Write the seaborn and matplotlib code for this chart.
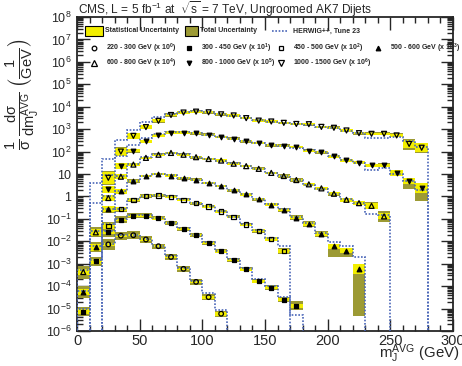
import numpy as np
import pandas as pd
import matplotlib
matplotlib.use('Agg')
import matplotlib.pyplot as plt
import seaborn as sns
from matplotlib.patches import Rectangle
from matplotlib.lines import Line2D
from matplotlib.ticker import LogLocator, NullFormatter, MultipleLocator, FuncFormatter

sns.set_style('ticks')
plt.rcParams['font.family'] = ['Liberation Sans', 'DejaVu Sans']
plt.rcParams['mathtext.fontset'] = 'custom'
plt.rcParams['mathtext.rm'] = 'Liberation Sans'
plt.rcParams['mathtext.it'] = 'Liberation Sans:italic'
plt.rcParams['mathtext.bf'] = 'Liberation Sans:bold'
plt.rcParams['mathtext.default'] = 'regular'

# ---- data (values are log10 of the plotted, already scaled, cross sections) ----
# 220 - 300 GeV (x 10^0), open circles
circ_x = [25, 35, 45, 55, 65, 75, 85, 95, 105, 115]
circ_log = [-2.14, -1.75, -1.73, -1.92, -2.22, -2.70, -3.23, -3.81, -4.49, -5.23]
circ_stat = [0.08, 0.05, 0.05, 0.05, 0.05, 0.05, 0.05, 0.06, 0.07, 0.08]
circ_tot = [0.26, 0.18, 0.18, 0.15, 0.12, 0.12, 0.12, 0.12, 0.13, 0.14]
circ_hw_x = [25, 35, 45, 55, 65, 75, 85, 95, 105, 115]
circ_hw = [-2.1, -1.72, -1.7, -1.9, -2.2, -2.65, -3.2, -3.75, -4.3, -5.05]

# 300 - 450 GeV (x 10^1), filled squares
sqf_x = [5, 15, 25, 35, 45, 55, 65, 75, 85, 95, 105, 115, 125, 135, 145, 155, 165, 175]
sqf_log = [-5.14, -2.9, -1.6, -1.04, -0.86, -0.86, -0.98, -1.19, -1.44, -1.72,
           -2.07, -2.45, -2.83, -3.25, -3.78, -4.07, -4.60, -4.88]
sqf_stat = [0.1, 0.1, 0.06, 0.05, 0.05, 0.05, 0.05, 0.05, 0.05, 0.05,
            0.05, 0.05, 0.05, 0.06, 0.06, 0.07, 0.08, 0.1]
sqf_tot = [0.19, 0.22, 0.22, 0.16, 0.12, 0.1, 0.09, 0.09, 0.09, 0.09,
           0.09, 0.09, 0.09, 0.09, 0.1, 0.11, 0.12, 0.2]
sqf_hw_x = sqf_x
sqf_hw = [-5.0, -2.85, -1.55, -1.0, -0.83, -0.85, -0.98, -1.17, -1.42, -1.7,
          -2.05, -2.42, -2.8, -3.2, -3.7, -4.0, -4.5, -5.3]

# 450 - 500 GeV (x 10^2), open squares
sqo_x = [25, 35, 45, 55, 65, 75, 85, 95, 105, 115, 125, 135, 145, 155, 165]
sqo_log = [-1.31, -0.57, -0.15, 0.02, 0.05, -0.02, -0.15, -0.30, -0.45, -0.67,
           -0.91, -1.26, -1.53, -1.90, -2.43]
sqo_stat = [0.12, 0.1, 0.06, 0.05, 0.05, 0.05, 0.05, 0.05, 0.05, 0.05,
            0.05, 0.05, 0.06, 0.07, 0.09]
sqo_tot = [0.16, 0.12, 0.08, 0.07, 0.07, 0.07, 0.07, 0.07, 0.07, 0.07,
           0.07, 0.08, 0.09, 0.1, 0.15]
sqo_hw_x = sqo_x
sqo_hw = [-1.25, -0.55, -0.13, 0.03, 0.06, 0.0, -0.13, -0.28, -0.43, -0.65,
          -0.9, -1.22, -1.5, -1.85, -2.2]

# 500 - 600 GeV (x 10^3), filled up triangles
tuf_x = [5, 15, 25, 35, 45, 55, 65, 75, 85, 95, 105, 115, 125, 135, 145, 155,
         165, 175, 185, 195, 205, 215, 225]
tuf_log = [-4.26, -2.27, -0.57, 0.22, 0.69, 0.91, 1.0, 0.93, 0.81, 0.74, 0.60,
           0.46, 0.27, 0.09, -0.12, -0.36, -0.60, -0.94, -1.23, -1.68, -2.22,
           -2.42, -3.23]
tuf_stat = [0.12, 0.15, 0.14, 0.1, 0.06, 0.05, 0.05, 0.05, 0.05, 0.05, 0.05,
            0.05, 0.05, 0.05, 0.05, 0.06, 0.06, 0.07, 0.09, 0.1, 0.12, 0.1, 0.22]
tuf_tot = [0.25, 0.22, 0.15, 0.1, 0.07, 0.06, 0.06, 0.06, 0.06, 0.06, 0.06,
           0.06, 0.06, 0.06, 0.07, 0.08, 0.09, 0.12, 0.13, 0.15, 0.12, 0.12, 0.22]
tuf_tot_dn = [0.25, 0.22, 0.15, 0.1, 0.07, 0.06, 0.06, 0.06, 0.06, 0.06, 0.06,
              0.06, 0.06, 0.06, 0.07, 0.08, 0.09, 0.12, 0.13, 0.15, 0.5, 0.3, 2.1]
tuf_hw_x = tuf_x
tuf_hw = [-4.2, -2.2, -0.55, 0.25, 0.7, 0.92, 1.0, 0.95, 0.83, 0.74, 0.62, 0.47,
          0.28, 0.1, -0.1, -0.33, -0.58, -0.9, -1.2, -1.62, -2.05, -2.2, -2.7]

# 600 - 800 GeV (x 10^4), open up triangles
tuo_x = [5, 15, 25, 35, 45, 55, 65, 75, 85, 95, 105, 115, 125, 135, 145, 155,
         165, 175, 185, 195, 205, 215, 225, 235, 245]
tuo_log = [-3.37, -1.6, -0.07, 0.88, 1.42, 1.72, 1.86, 1.94, 1.86, 1.75, 1.67,
           1.60, 1.46, 1.35, 1.23, 1.05, 0.91, 0.73, 0.54, 0.36, 0.12, -0.15,
           -0.30, -0.42, -0.89]
tuo_stat = [0.15, 0.15, 0.14, 0.1, 0.07, 0.05, 0.05, 0.05, 0.05, 0.05, 0.05,
            0.05, 0.05, 0.05, 0.05, 0.05, 0.06, 0.06, 0.06, 0.07, 0.07, 0.08,
            0.09, 0.12, 0.13]
tuo_tot = [0.29, 0.22, 0.15, 0.1, 0.08, 0.06, 0.06, 0.06, 0.06, 0.06, 0.06,
           0.06, 0.06, 0.06, 0.06, 0.06, 0.07, 0.07, 0.07, 0.08, 0.08, 0.09,
           0.1, 0.16, 0.24]
tuo_hw_x = tuo_x
tuo_hw = [-3.3, -1.55, 0.0, 0.92, 1.45, 1.75, 1.88, 1.95, 1.88, 1.77, 1.68, 1.6,
          1.47, 1.35, 1.22, 1.05, 0.9, 0.72, 0.52, 0.34, 0.1, -0.12, -0.28,
          -0.8, -0.85]

# 800 - 1000 GeV (x 10^5), filled down triangles
tdf_x = [25, 35, 45, 55, 65, 75, 85, 95, 105, 115, 125, 135, 145, 155, 165, 175,
         185, 195, 205, 215, 225, 235, 245, 255, 265, 275]
tdf_log = [0.32, 1.35, 2.04, 2.45, 2.72, 2.85, 2.85, 2.82, 2.75, 2.65, 2.57,
           2.46, 2.38, 2.28, 2.26, 2.20, 2.04, 1.97, 1.79, 1.61, 1.50, 1.38,
           1.38, 1.05, 0.69, 0.39]
tdf_stat = [0.15, 0.12, 0.08, 0.06, 0.05, 0.05, 0.05, 0.05, 0.05, 0.05, 0.05,
            0.05, 0.05, 0.05, 0.05, 0.05, 0.05, 0.05, 0.06, 0.06, 0.06, 0.07,
            0.08, 0.13, 0.15, 0.22]
tdf_tot = [0.16, 0.13, 0.09, 0.07, 0.06, 0.06, 0.06, 0.06, 0.06, 0.06, 0.06,
           0.06, 0.06, 0.06, 0.06, 0.06, 0.06, 0.06, 0.07, 0.07, 0.07, 0.08,
           0.09, 0.14, 0.15, 0.22]
tdf_tot_dn = [0.16, 0.13, 0.09, 0.07, 0.06, 0.06, 0.06, 0.06, 0.06, 0.06, 0.06,
              0.06, 0.06, 0.06, 0.06, 0.06, 0.06, 0.06, 0.07, 0.07, 0.07, 0.08,
              0.09, 0.14, 0.35, 0.6]
tdf_hw_x = [15] + tdf_x
tdf_hw = [-0.3, 0.95, 1.8, 2.3, 2.6, 2.8, 2.88, 2.87, 2.83, 2.76, 2.66, 2.57,
          2.47, 2.38, 2.3, 2.24, 2.17, 2.05, 1.96, 1.8, 1.62, 1.48, 1.2, 1.25,
          1.0, 0.68, 0.3]

# 1000 - 1500 GeV (x 10^6), open down triangles
tdo_x = tdf_x
tdo_log = [0.83, 2.0, 2.70, 3.09, 3.37, 3.63, 3.74, 3.78, 3.75, 3.66, 3.61,
           3.49, 3.38, 3.34, 3.28, 3.23, 3.22, 3.10, 3.06, 2.94, 2.82, 2.79,
           2.79, 2.72, 2.34, 2.17]
tdo_stat = [0.27, 0.18, 0.13, 0.1, 0.07, 0.06, 0.05, 0.05, 0.05, 0.05, 0.05,
            0.05, 0.05, 0.05, 0.05, 0.05, 0.05, 0.05, 0.05, 0.05, 0.05, 0.06,
            0.06, 0.08, 0.18, 0.19]
tdo_tot = [0.3, 0.19, 0.14, 0.1, 0.08, 0.07, 0.06, 0.06, 0.06, 0.06, 0.06,
           0.06, 0.06, 0.06, 0.06, 0.06, 0.06, 0.06, 0.06, 0.06, 0.06, 0.07,
           0.07, 0.09, 0.2, 0.2]
tdo_tot_dn = [0.3, 0.19, 0.14, 0.1, 0.08, 0.07, 0.06, 0.06, 0.06, 0.06, 0.06,
              0.06, 0.06, 0.06, 0.06, 0.06, 0.06, 0.06, 0.06, 0.06, 0.06, 0.07,
              0.07, 0.09, 0.26, 0.24]
tdo_hw_x = [15] + tdo_x
tdo_hw = [0.62, 1.68, 2.5, 2.97, 3.3, 3.52, 3.68, 3.77, 3.8, 3.76, 3.68, 3.6,
          3.5, 3.4, 3.33, 3.27, 3.22, 3.18, 3.1, 3.03, 2.93, 2.83, 2.62, 2.62,
          2.65, 2.45, 2.2]

series = [
    # label, x, log, stat, tot_up, tot_dn, hw_x, hw, marker, filled, size
    ('220 - 300 GeV (x 10$^{0}$)', circ_x, circ_log, circ_stat, circ_tot, circ_tot, circ_hw_x, circ_hw, 'o', False, 11),
    ('300 - 450 GeV (x 10$^{1}$)', sqf_x, sqf_log, sqf_stat, sqf_tot, sqf_tot, sqf_hw_x, sqf_hw, 's', True, 9),
    ('450 - 500 GeV (x 10$^{2}$)', sqo_x, sqo_log, sqo_stat, sqo_tot, sqo_tot, sqo_hw_x, sqo_hw, 's', False, 10),
    ('500 - 600 GeV (x 10$^{3}$)', tuf_x, tuf_log, tuf_stat, tuf_tot, tuf_tot_dn, tuf_hw_x, tuf_hw, '^', True, 11),
    ('600 - 800 GeV (x 10$^{4}$)', tuo_x, tuo_log, tuo_stat, tuo_tot, tuo_tot, tuo_hw_x, tuo_hw, '^', False, 13),
    ('800 - 1000 GeV (x 10$^{5}$)', tdf_x, tdf_log, tdf_stat, tdf_tot, tdf_tot_dn, tdf_hw_x, tdf_hw, 'v', True, 11),
    ('1000 - 1500 GeV (x 10$^{6}$)', tdo_x, tdo_log, tdo_stat, tdo_tot, tdo_tot_dn, tdo_hw_x, tdo_hw, 'v', False, 13),
]

bin_width = 10
yellow = '#f2ee00'
olive = '#9c9a34'
hw_color = '#4a66b8'

W, H = 462, 366
fig = plt.figure(figsize=(W / 100, H / 100), dpi=100)
ax = fig.add_axes([77 / W, 1 - 331 / H, 376 / W, 314 / H])
ax.set_yscale('log')

# uncertainty boxes
for label, x, lg, st, tu, td, hx, hw, mk, filled, sz in series:
    x = np.array(x, float)
    lg = np.array(lg)
    st, tu, td = np.array(st), np.array(tu), np.array(td)
    lo_t, hi_t = 10 ** (lg - td), 10 ** (lg + tu)
    ax.bar(x, hi_t - lo_t, bottom=lo_t, width=bin_width, color=olive, linewidth=0, zorder=2)
    lo_s, hi_s = 10 ** (lg - st), 10 ** (lg + st)
    ax.bar(x, hi_s - lo_s, bottom=lo_s, width=bin_width, color=yellow, linewidth=0, zorder=2)

# HERWIG++ steps
for label, x, lg, st, tu, td, hx, hw, mk, filled, sz in series:
    hx = np.array(hx, float)
    edges = np.append(hx - bin_width / 2, hx[-1] + bin_width / 2)
    ax.stairs(10 ** np.array(hw), edges, baseline=1e-12, color=hw_color,
              linestyle=(0, (1, 1)), linewidth=1.2, zorder=3)

# data points
for label, x, lg, st, tu, td, hx, hw, mk, filled, sz in series:
    df = pd.DataFrame({'mass': x, 'value': 10 ** np.array(lg)})
    sns.scatterplot(data=df, x='mass', y='value', marker=mk, s=sz, color='black',
                    facecolor='black' if filled else 'none', edgecolor='black',
                    linewidth=0.9, ax=ax, zorder=5, legend=False)

ax.set_xlim(0, 300)
ax.set_ylim(1e-6, 1e8)
ax.set_xlabel('')
ax.set_ylabel('')
ax.xaxis.set_major_locator(MultipleLocator(50))
ax.xaxis.set_minor_locator(MultipleLocator(10))
ax.yaxis.set_major_locator(LogLocator(base=10, numticks=20))
ax.yaxis.set_minor_locator(LogLocator(base=10, subs=np.arange(2, 10), numticks=20))
ax.yaxis.set_minor_formatter(NullFormatter())


def ylab(v, pos):
    k = int(round(np.log10(v)))
    if k == 0:
        return '1'
    if k == 1:
        return '10'
    return '$10^{%d}$' % k


ax.yaxis.set_major_formatter(FuncFormatter(ylab))
ax.tick_params(which='both', direction='in', top=True, right=True, width=1.0)
ax.tick_params(which='major', length=9)
ax.tick_params(which='minor', length=4.5)
ax.tick_params(axis='y', labelsize=9, pad=4)
ax.tick_params(axis='x', labelsize=10.5, pad=2)
for s in ax.spines.values():
    s.set_linewidth(1.3)

# texts
fig.text(78 / W, 1 - 9 / H, r'CMS, L = 5 fb$^{-1}$ at  $\sqrt{s}$ = 7 TeV, Ungroomed AK7 Dijets',
         fontsize=8.6, va='center', ha='left')
fig.text(460 / W, 1 - 358 / H, r'm$_{J}^{AVG}$ (GeV)', fontsize=10.8, ha='right', va='baseline')
fig.text(23 / W, 1 - 94 / H,
         r'$\frac{1}{\sigma}\,\frac{d\sigma}{dm_{J}^{AVG}}\,\left(\frac{1}{GeV}\right)$',
         fontsize=15, rotation=90, ha='center', va='center')


# legend, drawn by hand in figure pixels
def fx(px):
    return px / W


def fy(py):
    return 1 - py / H


lfs = 5.0
row1, row2, row3 = 31, 48, 63
fig.add_artist(Rectangle((fx(85), fy(row1 + 5)), 18 / W, 10 / H, facecolor=yellow,
                         edgecolor='black', linewidth=0.8, transform=fig.transFigure))
fig.text(fx(105), fy(row1), 'Statistical Uncertainty', fontsize=lfs, fontweight='bold', va='center')
fig.add_artist(Rectangle((fx(185), fy(row1 + 5)), 13 / W, 10 / H, facecolor=olive,
                         edgecolor='black', linewidth=0.8, transform=fig.transFigure))
fig.text(fx(200), fy(row1), 'Total Uncertainty', fontsize=lfs, fontweight='bold', va='center')
fig.add_artist(Line2D([fx(272), fx(287)], [fy(row1), fy(row1)], color=hw_color,
                      linestyle=(0, (1, 1)), linewidth=1.2, transform=fig.transFigure))
fig.text(fx(293), fy(row1), 'HERWIG++, Tune 23', fontsize=lfs, fontweight='bold', va='center')

leg_pos = [(94, row2), (189, row2), (281, row2), (378, row2), (94, row3), (189, row3), (281, row3)]
for (label, x, lg, st, tu, td, hx, hw, mk, filled, sz), (px, py) in zip(series, leg_pos):
    fig.add_artist(Line2D([fx(px)], [fy(py)], marker=mk, markersize=np.sqrt(sz),
                          markerfacecolor='black' if filled else 'none',
                          markeredgecolor='black', markeredgewidth=0.9,
                          linestyle='none', transform=fig.transFigure))
    lab = label.replace('$^{', r'$^{\mathbf{').replace('}$', '}}$')
    fig.text(fx(px + 12), fy(py), lab, fontsize=lfs, fontweight='bold', va='center')

fig.savefig('out.png', dpi=100)
